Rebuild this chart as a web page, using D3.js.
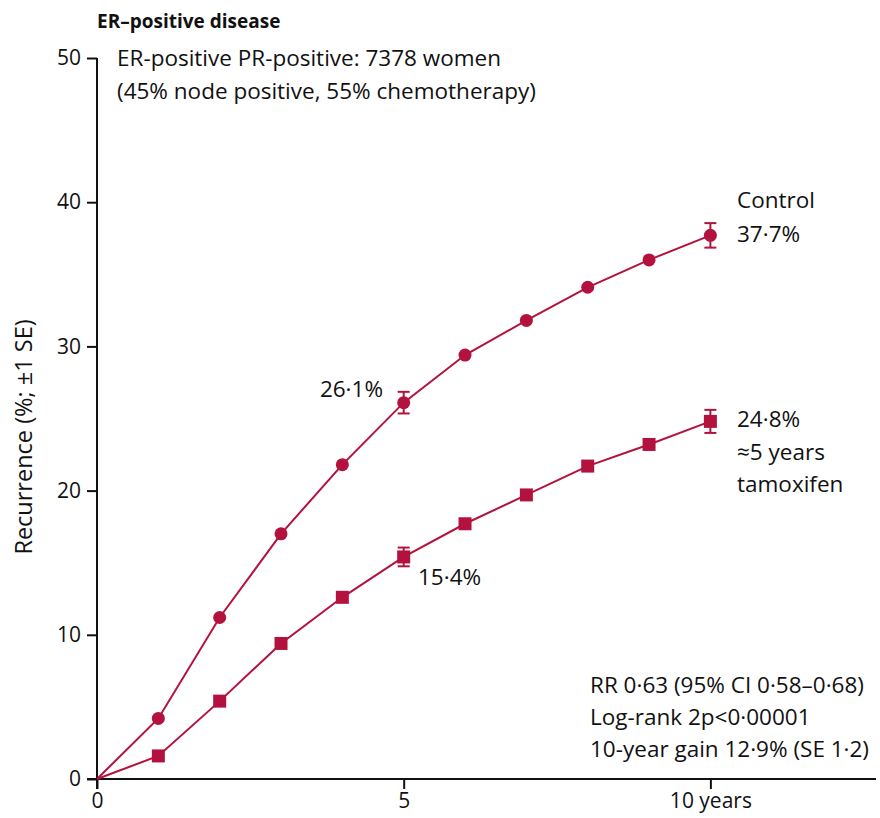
<!DOCTYPE html>
<html>
<head>
<meta charset="utf-8">
<script src="https://cdn.jsdelivr.net/npm/d3@7"></script>
<style>
  html, body { margin: 0; padding: 0; background: #fff; }
  svg text { font-family: "Open Sans", "DejaVu Sans", sans-serif; fill: #111; }
</style>
</head>
<body>
<svg id="chart" width="880" height="818"></svg>
<script>
// Years of follow-up
const years = [0, 1, 2, 3, 4, 5, 6, 7, 8, 9, 10];
// Cumulative recurrence (%), control arm
const controlValues = [0, 4.2, 11.2, 17.0, 21.8, 26.1, 29.4, 31.8, 34.1, 36.0, 37.7];
// Cumulative recurrence (%), about 5 years of tamoxifen
const tamoxifenValues = [0, 1.6, 5.4, 9.4, 12.6, 15.4, 17.7, 19.7, 21.7, 23.2, 24.8];
// ±1 SE bars at year 5 and year 10
const controlSE = [{ year: 5, value: 26.1, se: 0.75 }, { year: 10, value: 37.7, se: 0.85 }];
const tamoxifenSE = [{ year: 5, value: 15.4, se: 0.65 }, { year: 10, value: 24.8, se: 0.8 }];
// Axis ticks
const xTicks = [0, 5, 10];
const yTicks = [0, 10, 20, 30, 40, 50];

const red = "#b3123e";
const svg = d3.select("#chart");
const margin = { left: 97, right: 4, top: 58, bottom: 39 };
const W = 880, H = 818;

const x = d3.scaleLinear().domain([0, 12.7]).range([margin.left, W - margin.right]);
const y = d3.scaleLinear().domain([0, 50]).range([H - margin.bottom, margin.top]);

// Axes
const xAxis = svg.append("g")
  .attr("transform", `translate(0,${y(0)})`)
  .call(d3.axisBottom(x).tickValues(xTicks).tickSize(10).tickSizeOuter(0).tickPadding(4)
    .tickFormat(d => d === 10 ? "10 years" : String(d)));
const yAxis = svg.append("g")
  .attr("transform", `translate(${x(0)},0)`)
  .call(d3.axisLeft(y).tickValues(yTicks).tickSize(10).tickSizeOuter(0).tickPadding(6));

[xAxis, yAxis].forEach(g => {
  g.select(".domain").attr("stroke", "#111").attr("stroke-width", 2);
  g.selectAll(".tick line").attr("stroke", "#111").attr("stroke-width", 2);
  g.selectAll(".tick text").attr("font-size", 21).attr("fill", "#111")
    .style("font-family", '"Open Sans", sans-serif');
});
// Extend the x baseline to the left so it meets the zero tick
xAxis.select(".domain").attr("d", `M${x(0) - 10},0H${W - margin.right}`);
yAxis.select(".domain").attr("d", `M0,${y(0) + 10}V${y(50)}`);

// Y-axis title
svg.append("text")
  .attr("transform", `translate(32,437) rotate(-90)`)
  .attr("text-anchor", "middle").attr("font-size", 23.5)
  .text("Recurrence (%; ±1 SE)");

// Curves
const line = d3.line().x(d => x(d[0])).y(d => y(d[1]));
const controlPts = years.map((yr, i) => [yr, controlValues[i]]);
const tamPts = years.map((yr, i) => [yr, tamoxifenValues[i]]);

[controlPts, tamPts].forEach(pts => {
  svg.append("path").datum(pts).attr("d", line)
    .attr("fill", "none").attr("stroke", red).attr("stroke-width", 2);
});

// Error bars
const capHalf = 6;
[...controlSE, ...tamoxifenSE].forEach(e => {
  const g = svg.append("g").attr("stroke", red).attr("stroke-width", 2);
  const cx = x(e.year);
  g.append("line").attr("x1", cx).attr("x2", cx).attr("y1", y(e.value + e.se)).attr("y2", y(e.value - e.se));
  g.append("line").attr("x1", cx - capHalf).attr("x2", cx + capHalf).attr("y1", y(e.value + e.se)).attr("y2", y(e.value + e.se));
  g.append("line").attr("x1", cx - capHalf).attr("x2", cx + capHalf).attr("y1", y(e.value - e.se)).attr("y2", y(e.value - e.se));
});

// Markers (no marker at time zero)
svg.selectAll("circle.ctrl").data(controlPts.slice(1)).enter().append("circle")
  .attr("cx", d => x(d[0])).attr("cy", d => y(d[1])).attr("r", 6.5).attr("fill", red);
const sq = 13;
svg.selectAll("rect.tam").data(tamPts.slice(1)).enter().append("rect")
  .attr("x", d => x(d[0]) - sq / 2).attr("y", d => y(d[1]) - sq / 2)
  .attr("width", sq).attr("height", sq).attr("fill", red);

// Text
function label(tx, ty, str, size = 22.5, weight = "normal", anchor = "start") {
  return svg.append("text").attr("x", tx).attr("y", ty).attr("font-size", size)
    .attr("font-weight", weight).attr("text-anchor", anchor).text(str);
}
label(97, 28, "ER–positive disease", 19, "bold");
label(117, 66, "ER-positive PR-positive: 7378 women");
label(117, 99, "(45% node positive, 55% chemotherapy)");

label(737, 208, "Control");
label(737, 242, "37·7%");
label(737, 427, "24·8%");
label(737, 460, "≈5 years");
label(737, 492, "tamoxifen");

label(383, 397, "26·1%", 22.5, "normal", "end");
label(418, 585, "15·4%");

label(590, 693, "RR 0·63 (95% CI 0·58–0·68)");
label(590, 725, "Log-rank 2p<0·00001");
label(590, 757, "10-year gain 12·9% (SE 1·2)");
</script>
</body>
</html>
